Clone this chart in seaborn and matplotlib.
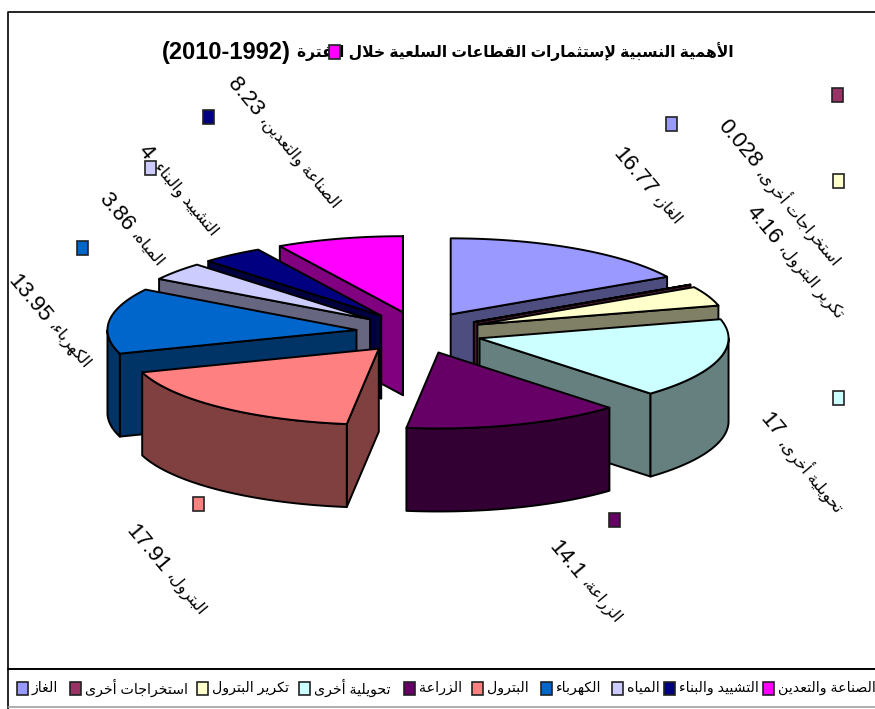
import re
import matplotlib
matplotlib.use('Agg')

import matplotlib.pyplot as plt
from matplotlib.patches import Rectangle
import seaborn as sns
import numpy as np

sns.set_theme(style="white")
plt.rcParams['font.family'] = ['Liberation Sans', 'DejaVu Sans']

# ===== DATA =====
title_words = "الأهمية النسبية لإستثمارات القطاعات السلعية خلال الفترة"
title_years = "(2010-1992)"
sectors = ["الغاز", "استخراجات أخرى", "تكرير البترول", "تحويلية أخرى", "الزراعة",
           "البترول", "الكهرباء", "المياه", "التشييد والبناء", "الصناعة والتعدين"]
shares = [16.77, 0.028, 4.16, 17, 14.1, 17.91, 13.95, 3.86, 4, 8.23]
share_labels = ["16.77", "0.028", "4.16", "17", "14.1", "17.91", "13.95", "3.86", "4", "8.23"]
colors = ["#9999FF", "#993366", "#FFFFCC", "#CCFFFF", "#660066",
          "#FF8080", "#0066CC", "#CCCCFF", "#000080", "#FF00FF"]

# ===== LAYOUT (pixels) =====
CX, CY = 419, 332.5      # centre of pie
EX, EY = 63, 21          # explosion offset
RX, RY = 249, 76         # ellipse
DEPTH = 83
draw_order = [9, 0, 1, 2, 8, 7, 6, 3, 5, 4]
# point where value text stops and sector name starts
label_join = [(652, 193), (757, 165), (778, 242), (779, 435), (580, 577),
              (165, 570), (47, 320), (130, 229), (150, 157), (259, 114)]
key_pos = [(671, 124), (837, 95), (838, 181), (838, 398), (614, 520),
           (198, 504), (82, 248), (150, 168), (208, 117), (334, 52)]
legend_x = [22, 75, 202, 304, 409, 477, 546, 617, 669, 768]
LABEL_ROT = -50
LABEL_GAP = 5


# ===== ARABIC (no shaping in matplotlib) =====
BASE = {'ء': 0xFE80, 'أ': 0xFE83, 'إ': 0xFE87, 'ا': 0xFE8D, 'ب': 0xFE8F, 'ة': 0xFE93,
        'ت': 0xFE95, 'ث': 0xFE99, 'ج': 0xFE9D, 'ح': 0xFEA1, 'خ': 0xFEA5, 'د': 0xFEA9,
        'ر': 0xFEAD, 'ز': 0xFEAF, 'س': 0xFEB1, 'ش': 0xFEB5, 'ص': 0xFEB9, 'ط': 0xFEC1,
        'ع': 0xFEC9, 'غ': 0xFECD, 'ف': 0xFED1, 'ق': 0xFED5, 'ك': 0xFED9, 'ل': 0xFEDD,
        'م': 0xFEE1, 'ن': 0xFEE5, 'ه': 0xFEE9, 'و': 0xFEED, 'ى': 0xFEEF, 'ي': 0xFEF1}
RIGHT_ONLY = "ءأإادرزوةى"
LAM_ALEF = {'أ': 0xFEF7, 'إ': 0xFEF9, 'ا': 0xFEFB}


def ar(text):
    chars = []
    i = 0
    while i < len(text):
        if text[i] == 'ل' and i + 1 < len(text) and text[i + 1] in LAM_ALEF:
            chars.append(('la', text[i + 1]))
            i += 2
        else:
            chars.append(('c', text[i]))
            i += 1
    out = []
    for k, (kind, c) in enumerate(chars):
        prev = chars[k - 1] if k > 0 else None
        nxt = chars[k + 1] if k + 1 < len(chars) else None
        joins_prev = (prev is not None and prev[0] == 'c' and prev[1] in BASE
                      and prev[1] not in RIGHT_ONLY)
        joins_next = nxt is not None and (nxt[0] == 'la' or nxt[1] in BASE)
        if kind == 'la':
            out.append(chr(LAM_ALEF[c] + (1 if joins_prev else 0)))
        elif c not in BASE:
            out.append(c)
        elif c == 'ء':
            out.append(chr(BASE[c]))
        elif c in RIGHT_ONLY:
            out.append(chr(BASE[c] + (1 if joins_prev else 0)))
        else:
            form = {(False, False): 0, (True, False): 1,
                    (False, True): 2, (True, True): 3}[(joins_prev, joins_next)]
            out.append(chr(BASE[c] + form))
    return ''.join(reversed(out))


# ===== FIGURE =====
fig = plt.figure(figsize=(8.75, 7.09), dpi=100)
ax = fig.add_axes([0, 0, 1, 1])
ax.set_xlim(0, 875)
ax.set_ylim(709, 0)
ax.axis('off')

palette = sns.color_palette(colors)
sides = [tuple(v / 2 for v in c) for c in palette]

# ===== PIE =====
edges = np.cumsum([0] + shares) / sum(shares) * 2 * np.pi


def ring(ox, oy, t):
    return ox + RX * np.sin(t), oy - RY * np.cos(t)


for i in draw_order:
    a, b = edges[i], edges[i + 1]
    mid = (a + b) / 2
    ox = CX + EX * np.sin(mid)
    oy = CY - EY * np.cos(mid)

    # flat side towards the viewer
    for ang, show in ((a, np.sin(a) < 0), (b, np.sin(b) > 0)):
        if show:
            ex, ey = ring(ox, oy, ang)
            ax.fill([ox, ex, ex, ox], [oy, ey, ey + DEPTH, oy + DEPTH],
                    facecolor=sides[i], edgecolor='black', lw=1.4, joinstyle='round')

    # outer wall, front half only
    lo, hi = max(a, np.pi / 2), min(b, 3 * np.pi / 2)
    if lo < hi:
        t = np.linspace(lo, hi, 60)
        x, y = ring(ox, oy, t)
        ax.fill(np.r_[x, x[::-1]], np.r_[y, y[::-1] + DEPTH],
                facecolor=sides[i], edgecolor='black', lw=1.4, joinstyle='round')

    # top
    t = np.linspace(a, b, 60)
    x, y = ring(ox, oy, t)
    ax.fill(np.r_[ox, x], np.r_[oy, y], facecolor=palette[i],
            edgecolor='black', lw=1.4, joinstyle='round')


def key(x, y, w, h, color):
    ax.add_patch(Rectangle((x - w / 2, y - h / 2), w, h, facecolor=color,
                           edgecolor='#222222', lw=1.2, zorder=5))


# ===== TITLE =====
ax.text(291, 52, title_years, ha='right', va='center', fontsize=17,
        fontweight='bold', color='black')
ax.text(297, 52, ar(title_words), ha='left', va='center', fontsize=11.2,
        fontweight='bold', color='black')

# ===== LABELS =====
gap_x = LABEL_GAP * np.cos(np.radians(LABEL_ROT))
gap_y = -LABEL_GAP * np.sin(np.radians(LABEL_ROT))
for i, name in enumerate(sectors):
    jx, jy = label_join[i]
    ax.text(jx, jy, share_labels[i], rotation=LABEL_ROT, rotation_mode='anchor',
            ha='right', va='center', fontsize=16, color='black')
    ax.text(jx + gap_x, jy + gap_y, ar(name + "،"), rotation=LABEL_ROT, rotation_mode='anchor',
            ha='left', va='center', fontsize=11.5, color='black')
    key(*key_pos[i], 11, 14, palette[i])

# ===== FRAME + LEGEND =====
ax.plot([875, 8, 8], [11.5, 11.5, 709], color='black', lw=1.2)
ax.plot([8, 875], [668.5, 668.5], color='black', lw=1.4)
ax.plot([8, 875], [707, 707], color='#999999', lw=1.1)
for i, name in enumerate(sectors):
    key(legend_x[i], 688, 11, 13, palette[i])
    ax.text(legend_x[i] + 10, 688, ar(name), ha='left', va='center', fontsize=10.2, color='black')

fig.savefig("out.png", dpi=100)
plt.close(fig)
